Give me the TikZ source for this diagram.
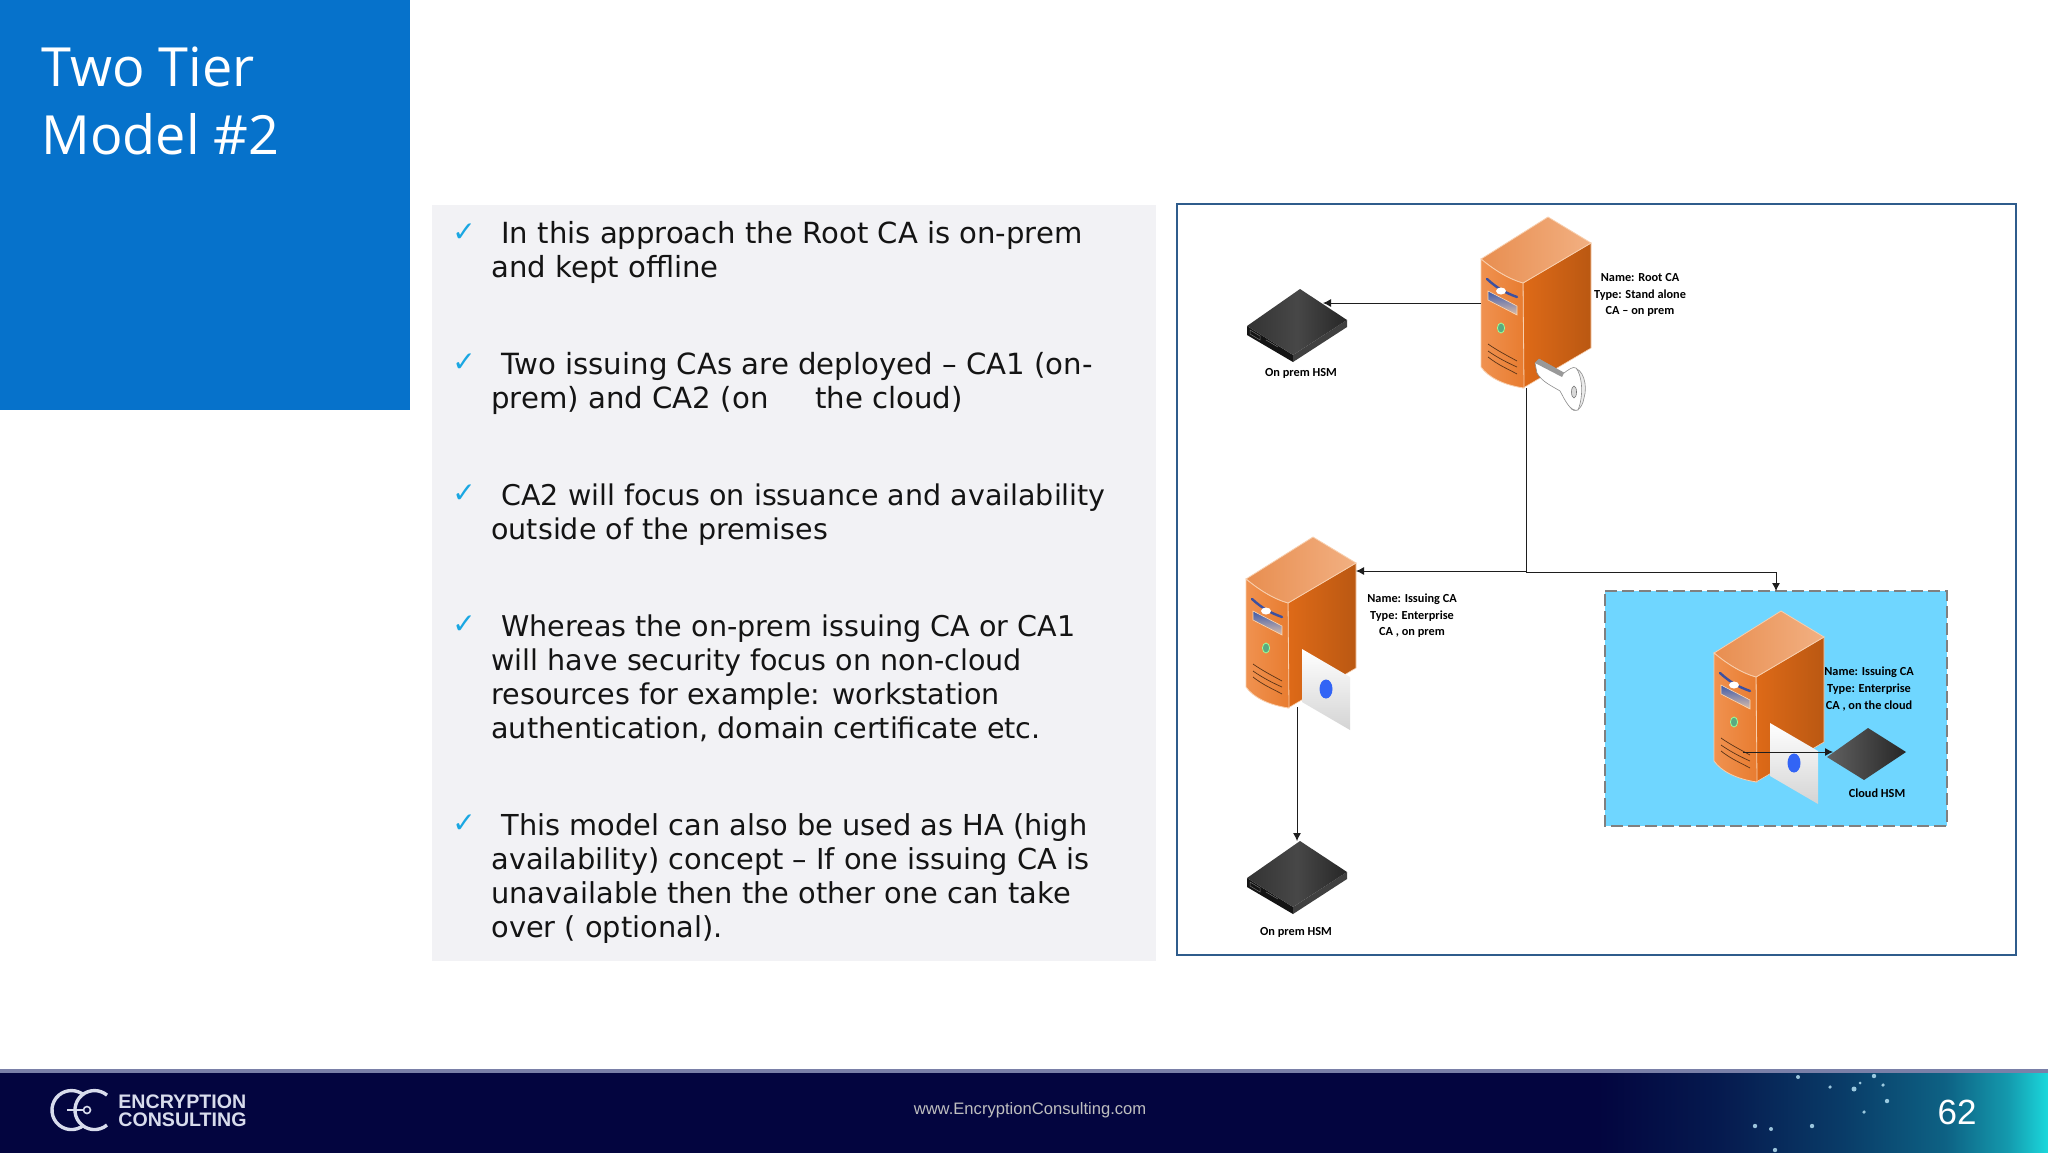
\documentclass[tikz,border=0pt]{standalone}
\usepackage{fontspec}
\setmainfont{DejaVu Sans}
\newfontfamily\titlefont{Open Sans}
\newfontfamily\labelfont{Carlito}
\newfontfamily\numfont{Liberation Sans}
\newfontfamily\logofont{Liberation Sans}
\usetikzlibrary{arrows.meta}
\definecolor{titleblue}{HTML}{0672CB}
\definecolor{panelgrey}{HTML}{F2F2F5}
\definecolor{framecol}{HTML}{2F5C8C}
\definecolor{cloudfill}{HTML}{6FD6FF}
\definecolor{navy}{HTML}{03053F}
\definecolor{teal1}{HTML}{1BD8DC}
\definecolor{tickcol}{HTML}{1AA7E2}
\definecolor{linecol}{HTML}{1E1E1E}
\definecolor{srvEdge}{HTML}{F8CFAE}
\definecolor{sideL}{HTML}{DE6A18}
\definecolor{sideR}{HTML}{BA5812}
\definecolor{topL}{HTML}{E88E50}
\definecolor{topR}{HTML}{F2B082}
\definecolor{frontL}{HTML}{F09250}
\definecolor{frontR}{HTML}{E87C30}
\definecolor{slotA}{HTML}{3C50A0}
\definecolor{slotB}{HTML}{3C5AAA}
\definecolor{slotC}{HTML}{DCBEAA}
\definecolor{ledcol}{HTML}{5AAA82}
\definecolor{ventcol}{HTML}{5A3418}
\definecolor{dotblue}{HTML}{3264F5}
\definecolor{footlight}{HTML}{7A80A8}
\definecolor{logocol}{HTML}{D8DCEC}
\pgfdeclarehorizontalshading{footershade}{100bp}{
 color(0bp)=(navy); color(64bp)=(navy); color(67bp)=(navy!90!teal1);
 color(70bp)=(navy!74!teal1); color(72.5bp)=(navy!56!teal1); color(74bp)=(navy!30!teal1); color(75bp)=(teal1); color(100bp)=(teal1)}
\tikzset{
 x=0.5pt,y=-0.5pt,
 bodytext/.style={anchor=north west,align=left,inner sep=0pt,text=black!92},
 ticktext/.style={anchor=center,inner sep=0pt,text=tickcol,font=\bfseries\fontsize{14}{14}\selectfont},
 caption/.style={align=center,inner sep=0pt,text=black,font=\labelfont\bfseries\fontsize{6.15}{8.3}\selectfont},
 conn/.style={draw=linecol,line width=0.45pt},
 arrowconn/.style={conn,-{Latex[length=4pt,width=4pt]}},
 server/.pic={
  \coordinate (-right) at (43,26);
  \coordinate (-left) at (-67,42);
  \coordinate (-bot) at (-23,171);
  \path[draw=srvEdge,line width=0.3pt,left color=sideL,right color=sideR]
     (-25,66) -- (43,26) -- (43,131) -- (-25,171) -- cycle;
  \path[draw=srvEdge,line width=0.4pt,left color=topL,right color=topR]
     (0,0) -- (43,26) -- (-25,66) .. controls (-40,62) and (-55,52) .. (-67,42) -- cycle;
  \path[draw=srvEdge,line width=0.4pt,left color=frontL,right color=frontR]
     (-67,42) .. controls (-55,52) and (-40,62) .. (-25,66) -- (-24,171)
     .. controls (-45,168) and (-60,160) .. (-67,150) -- cycle;
  \path[draw=slotA,line width=1.2pt,line cap=round] (-61,62) .. controls (-50,72) and (-42,76) .. (-31,80);
  \fill[white] (-47,74) ellipse (5 and 3.5);
  \path[draw=white!70!orange,line width=0.3pt,top color=slotB,bottom color=slotC]
     (-60,74) -- (-31,89) -- (-31,98) -- (-60,83) -- cycle;
  \draw[draw=white!60!green,line width=0.4pt,fill=ledcol] (-47,111) ellipse (3.6 and 5);
  \draw[ventcol,line width=0.35pt] (-60,127) .. controls (-50,134) and (-40,139) .. (-31,144);
  \draw[ventcol,line width=0.35pt] (-60,134) .. controls (-50,141) and (-40,146) .. (-31,150);
  \draw[ventcol,line width=0.35pt] (-60,140) .. controls (-50,148) and (-40,152) .. (-31,157);
 },
 cert/.pic={
  \path[top color=white,bottom color=black!17] (-11,112) -- (37,140) -- (37,193) -- (-11,165) -- cycle;
  \fill[dotblue] (13,152) ellipse (6.5 and 9.5);
 },
 hsm/.pic={
  \coordinate (-top) at (0,0);
  \fill[black!92] (-53,37) -- (-7,66) -- (-7,73) -- (-53,46) -- cycle;
  \fill[black!75] (-7,66) -- (47,31) -- (47,38) -- (-7,73) -- cycle;
  \path[left color=black!80,right color=black!85,middle color=black!72] (0,0) -- (47,31) -- (-7,66) -- (-53,37) -- cycle;
  \draw[black!55,line width=0.25pt] (-50,41) -- (-40,47) -- (-40,51) -- (-50,45) -- cycle;
  \draw[black!55,line width=0.25pt] (-34,51) -- (-22,58);
 },
}
\begin{document}
\begin{tikzpicture}
\useasboundingbox (0,0) rectangle (2048,1152);
\fill[white] (0,0) rectangle (2048,1152);
% title block
\fill[titleblue] (0,0) rectangle (410,410);
\node[anchor=north west,inner sep=0pt,align=left,text=white,font=\titlefont\fontsize{27}{34}\selectfont] (title) at (41,46) {Two Tier\\Model \#2};
% text panel
\fill[panelgrey] (432,205) rectangle (1156,961);
\node[ticktext] (t1) at (464,233) {✓};
\node[bodytext,font=\fontsize{14.55}{17}\selectfont] (b1) at (491,221) {\hspace{5pt}In this approach the Root CA is on-prem\\and kept offline};
\node[ticktext] (t2) at (464,363) {✓};
\node[bodytext,font=\fontsize{14.6}{17}\selectfont] (b2) at (491,352) {\hspace{5pt}Two issuing CAs are deployed – CA1 (on-\\prem) and CA2 (on \hspace{14pt} the cloud)};
\node[ticktext] (t3) at (464,494) {✓};
\node[bodytext,font=\fontsize{14.27}{17}\selectfont] (b3) at (491,483) {\hspace{5pt}CA2 will focus on issuance and availability\\outside of the premises};
\node[ticktext] (t4) at (464,625) {✓};
\node[bodytext,font=\fontsize{14.3}{17}\selectfont] (b4) at (491,614) {\hspace{5pt}Whereas the on-prem issuing CA or CA1\\will have security focus on non-cloud\\resources for example: workstation\\authentication, domain certificate etc.};
\node[ticktext] (t5) at (464,824) {✓};
\node[bodytext,font=\fontsize{14.42}{17}\selectfont] (b5) at (491,813) {\hspace{5pt}This model can also be used as HA (high\\availability) concept – If one issuing CA is\\unavailable then the other one can take\\over ( optional).};
% diagram frame
\draw[framecol,line width=1.1pt,fill=white] (1177,204) rectangle (2016,955);
% cloud box
\fill[cloudfill] (1605,591) rectangle (1947,826);
\draw[black!50,line width=1pt,dash pattern=on 6pt off 2.5pt] (1605,591) -- (1947,591) -- (1947,826) -- (1605,826) -- cycle;
\coordinate (cloudtop) at (1776,591);
% devices
\pic (hsma) at (1300,289) {hsm};
\pic (hsmb) at (1300,841) {hsm};
\pic (root) at (1548,217) {server};
\pic (ica) at (1313,537) {server};
\pic at (1313,537) {cert};
\pic (icb) at (1781,611) {server};
\pic at (1781,611) {cert};
% key
\path[fill=black!8,draw=black!45,line width=0.3pt] (1573,368) .. controls (1583,368) and (1588,385) .. (1584,398) .. controls (1582,410) and (1574,414) .. (1570,407) -- cycle;
\path[fill=white,draw=black!45,line width=0.3pt] (1535,363) -- (1539,359) -- (1564,373) .. controls (1568,370) and (1573,366) .. (1576,368)
  .. controls (1582,375) and (1584,395) .. (1578,410) .. controls (1570,412) and (1565,400) .. (1560,391)
  .. controls (1552,386) and (1542,382) .. (1537,373) -- cycle;
\draw[black!55,fill=black!15,line width=0.3pt] (1574,392) ellipse (2.5 and 6);
\fill[black!40] (1535,363) -- (1539,359) -- (1564,373) -- (1562,377) -- cycle;
% cloud HSM
\path[left color=black!62,right color=black!85] (1868,728) -- (1906,752) -- (1864,780) -- (1827,757) -- cycle;
\coordinate (cloudhsm) at (1833,752);
\coordinate (icbin) at (1743,752);
% connectors
\coordinate (rootport) at (1481,303);
\coordinate (hsmaport) at (1323,303);
\coordinate (rootbase) at (1526,388);
\coordinate (branch) at (1526,572);
\coordinate (icaport) at (1356,571);
\coordinate (icabase) at (1297,707);
\coordinate (hsmbport) at (1297,841);
\draw[arrowconn] (rootport) -- (hsmaport);
\draw[conn] (rootbase) -- (branch);
\draw[arrowconn] (branch |- icaport) -- (icaport);
\draw[arrowconn] (branch) -| (cloudtop);
\draw[arrowconn] (icabase) -- (hsmbport);
\draw[arrowconn] (icbin) -- (cloudhsm);
% labels
\node[caption] (lroot) at (1640,295) {Name: Root CA\\Type: Stand alone\\CA – on prem};
\node[caption] (lhsma) at (1301,373) {On prem HSM};
\node[caption] (lica) at (1412,616) {Name: Issuing CA\\Type: Enterprise\\CA , on prem};
\node[caption] (lhsmb) at (1296,932) {On prem HSM};
\node[caption] (licb) at (1869,689) {Name: Issuing CA\\Type: Enterprise\\CA , on the cloud};
\node[caption] (lcloud) at (1877,793) {Cloud HSM};
% footer
\shade[shading=footershade] (0,1070) rectangle (2048,1152);
\fill[footlight] (0,1069) rectangle (2048,1073);
\foreach \px/\py/\pr in {1798/1077/2,1830/1087/1.8,1854/1089/2.5,1860/1083/1.5,1874/1076/2.2,1883/1085/1.8,1887/1101/2.2,1864/1112/1.8,1755/1126/2.2,1771/1129/2,1812/1126/2.2,1775/1150/2.2}
 \fill[cyan!25!white,opacity=.8] (\px,\py) circle (\pr);
% logo
\draw[logocol,line width=1.7pt] (84,1125) arc (50:310:19.5);
\draw[logocol,line width=1.7pt] (107,1125) arc (50:310:19.5);
\draw[logocol,line width=1.2pt] (67,1110) -- (84,1110);
\draw[logocol,line width=.8pt] (87,1110) circle (3.5);
\node[anchor=west,inner sep=0pt,text=logocol,font=\logofont\bfseries\fontsize{9.8}{9}\selectfont,align=left] (logo) at (118,1111) {ENCRYPTION\\CONSULTING};
\node[inner sep=0pt,text=black!25,font=\logofont\fontsize{8.3}{10}\selectfont] (url) at (1030,1110) {www.EncryptionConsulting.com};
\node[inner sep=0pt,text=white,font=\numfont\fontsize{17.5}{20}\selectfont] (num) at (1957,1112) {62};
\end{tikzpicture}
\end{document}
